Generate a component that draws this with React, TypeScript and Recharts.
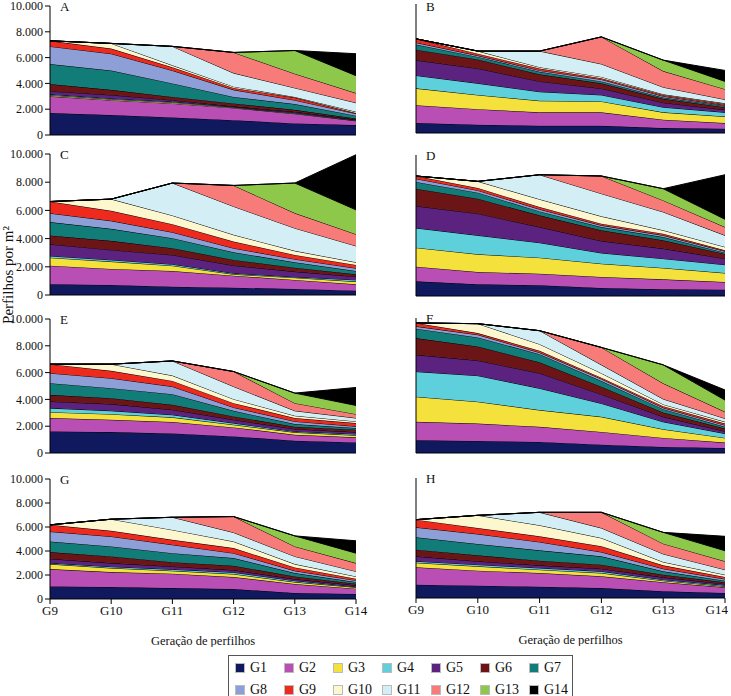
import { Area, AreaChart, XAxis, YAxis } from 'recharts'

const categories = ['G9', 'G10', 'G11', 'G12', 'G13', 'G14']
const seriesNames = ['G1', 'G2', 'G3', 'G4', 'G5', 'G6', 'G7', 'G8', 'G9', 'G10', 'G11', 'G12', 'G13', 'G14']
const seriesColors = [
  '#10195e', '#b94fb5', '#f5e13c', '#5dd0dc', '#5b2280', '#6b1517', '#127d78',
  '#8d9fd6', '#ee2a1e', '#fdf7cf', '#d3eff5', '#f77b79', '#8dc84a', '#000000',
]
const yTicks = [0, 2000, 4000, 6000, 8000, 10000]

// tillers per m2, one row per cohort (G1..G14), columns G9..G14
const panelA = [
  [1700, 1550, 1360, 1150, 900, 770],
  [1300, 1150, 1090, 950, 750, 330],
  [80, 70, 70, 40, 40, 30],
  [70, 60, 60, 30, 40, 30],
  [250, 270, 120, 50, 70, 40],
  [550, 400, 250, 230, 150, 80],
  [1550, 1500, 1050, 500, 450, 220],
  [1370, 1300, 1000, 550, 300, 150],
  [430, 400, 250, 150, 200, 50],
  [0, 400, 150, 100, 50, 100],
  [0, 0, 1470, 1050, 700, 700],
  [0, 0, 0, 1600, 1100, 750],
  [0, 0, 0, 0, 1800, 1350],
  [0, 0, 0, 0, 0, 1700],
]
const panelB = [
  [770, 640, 560, 560, 380, 330],
  [1380, 1210, 1040, 1040, 650, 440],
  [1310, 1100, 900, 850, 570, 510],
  [1000, 900, 700, 500, 400, 320],
  [1180, 1150, 800, 500, 350, 200],
  [820, 700, 550, 400, 300, 200],
  [400, 200, 200, 150, 100, 100],
  [150, 100, 100, 150, 100, 50],
  [290, 150, 150, 100, 100, 100],
  [0, 200, 100, 100, 50, 50],
  [0, 0, 1250, 1000, 550, 300],
  [0, 0, 0, 2100, 1250, 800],
  [0, 0, 0, 0, 850, 600],
  [0, 0, 0, 0, 0, 850],
]
const panelC = [
  [760, 710, 590, 520, 430, 310],
  [1320, 1140, 1110, 850, 640, 450],
  [570, 520, 380, 100, 160, 190],
  [120, 120, 100, 70, 50, 120],
  [830, 710, 660, 550, 380, 230],
  [620, 640, 480, 400, 280, 170],
  [950, 850, 710, 540, 380, 230],
  [630, 570, 420, 290, 220, 200],
  [830, 710, 570, 470, 300, 230],
  [0, 830, 620, 480, 290, 190],
  [0, 0, 2300, 2010, 1610, 1160],
  [0, 0, 0, 1490, 1070, 830],
  [0, 0, 0, 0, 2130, 1730],
  [0, 0, 0, 0, 0, 3910],
]
const panelD = [
  [1040, 830, 760, 570, 470, 450],
  [1040, 870, 820, 780, 710, 540],
  [1350, 1260, 1140, 940, 810, 640],
  [1390, 1340, 1060, 760, 660, 590],
  [1560, 1540, 1110, 850, 710, 430],
  [1230, 1060, 830, 760, 590, 330],
  [480, 430, 280, 230, 230, 90],
  [230, 160, 150, 120, 120, 100],
  [190, 170, 160, 120, 120, 70],
  [0, 470, 550, 520, 240, 240],
  [0, 0, 1740, 1610, 1300, 820],
  [0, 0, 0, 1250, 820, 590],
  [0, 0, 0, 0, 830, 550],
  [0, 0, 0, 0, 0, 3160],
]
const panelE = [
  [1610, 1560, 1460, 1240, 920, 790],
  [1000, 920, 850, 670, 440, 380],
  [440, 420, 350, 200, 180, 150],
  [300, 250, 190, 120, 70, 90],
  [500, 500, 380, 250, 180, 150],
  [490, 440, 370, 250, 170, 180],
  [870, 750, 790, 420, 200, 120],
  [750, 740, 570, 250, 200, 130],
  [670, 550, 420, 320, 250, 240],
  [0, 500, 400, 300, 170, 130],
  [0, 0, 1090, 940, 370, 250],
  [0, 0, 0, 1120, 570, 290],
  [0, 0, 0, 0, 750, 650],
  [0, 0, 0, 0, 0, 1340],
]
const panelF = [
  [940, 890, 820, 620, 450, 370],
  [1370, 1290, 1120, 940, 670, 400],
  [1860, 1620, 1240, 1120, 640, 350],
  [1860, 1930, 1610, 990, 550, 320],
  [1240, 1120, 1120, 670, 370, 170],
  [1240, 1040, 810, 570, 320, 200],
  [700, 670, 600, 420, 250, 130],
  [170, 200, 120, 150, 100, 120],
  [250, 120, 130, 100, 120, 120],
  [0, 700, 490, 330, 130, 130],
  [0, 0, 1000, 620, 400, 250],
  [0, 0, 0, 1290, 1160, 490],
  [0, 0, 0, 0, 1370, 870],
  [0, 0, 0, 0, 0, 750],
]
const panelG = [
  [1050, 1000, 910, 830, 500, 420],
  [1440, 1240, 1200, 1000, 750, 440],
  [420, 340, 240, 250, 160, 110],
  [80, 110, 120, 140, 110, 50],
  [360, 300, 240, 190, 140, 120],
  [560, 560, 360, 360, 220, 130],
  [880, 830, 750, 640, 280, 140],
  [830, 830, 700, 410, 190, 140],
  [560, 470, 410, 420, 280, 140],
  [0, 970, 830, 550, 280, 190],
  [0, 0, 1050, 750, 640, 420],
  [0, 0, 0, 1330, 830, 690],
  [0, 0, 0, 0, 880, 830],
  [0, 0, 0, 0, 0, 1030],
]
const panelH = [
  [1110, 1030, 940, 830, 560, 420],
  [1450, 1250, 1140, 980, 750, 470],
  [380, 360, 280, 270, 130, 80],
  [120, 140, 140, 140, 90, 90],
  [410, 280, 220, 220, 190, 110],
  [560, 500, 390, 340, 220, 140],
  [1030, 940, 860, 690, 280, 130],
  [830, 830, 700, 360, 220, 140],
  [640, 500, 470, 480, 280, 170],
  [0, 1060, 920, 690, 280, 190],
  [0, 0, 1080, 830, 670, 420],
  [0, 0, 0, 1310, 860, 700],
  [0, 0, 0, 0, 940, 880],
  [0, 0, 0, 0, 0, 1200],
]

const FONT = '"Liberation Serif", "Times New Roman", Times, serif'
const INK = '#111'

function toRows(values: number[][]) {
  return categories.map((name, i) => {
    const row: Record<string, string | number> = { name }
    seriesNames.forEach((s, j) => {
      row[s] = values[j][i]
    })
    return row
  })
}

const fmtY = (v: number) => (v === 0 ? '0' : `${v / 1000}.000`)

// category tick; the right-hand panel pulls its last label inside the page
function makeXTick(shiftLast: boolean) {
  return (props: any) => {
    const { x, y, payload, index } = props
    const last = shiftLast && index === categories.length - 1
    return (
      <text
        x={last ? x + 3 : x}
        y={y}
        dy="0.71em"
        textAnchor={last ? 'end' : 'middle'}
        fill={INK}
        fontSize={13}
        fontFamily={FONT}
      >
        {payload.value}
      </text>
    )
  }
}

interface PanelProps {
  letter: string
  values: number[][]
  left: number
  plotTop: number
  plotH: number
  plotW: number
  yLabels?: boolean
  xLabels?: boolean
}

function Panel({ letter, values, left, plotTop, plotH, plotW, yLabels, xLabels }: PanelProps) {
  const mTop = 8
  const xH = xLabels ? 48 : 30
  const letterTop = Math.max(2, mTop - plotTop)
  return (
    <div style={{ position: 'absolute', left, top: plotTop - mTop }}>
      <AreaChart
        width={50 + plotW + 14}
        height={mTop + plotH + xH}
        data={toRows(values)}
        margin={{ top: mTop, right: 14, bottom: 0, left: 0 }}
      >
        <XAxis
          dataKey="name"
          stroke="#000"
          height={xH}
          tickSize={5}
          interval={0}
          tick={xLabels ? makeXTick(!yLabels) : false}
          label={
            xLabels
              ? {
                  value: 'Geração de perfilhos',
                  position: 'insideBottom',
                  offset: 2,
                  fill: INK,
                  fontSize: 12.5,
                  fontFamily: FONT,
                }
              : undefined
          }
        />
        <YAxis
          width={50}
          domain={[0, 10000]}
          ticks={yTicks}
          interval={0}
          stroke="#000"
          tickSize={5}
          tickFormatter={fmtY}
          tick={yLabels ? { fill: INK, fontSize: 12, fontFamily: FONT } : false}
        />
        {seriesNames.map((s, j) => (
          <Area
            key={s}
            type="linear"
            dataKey={s}
            stackId="1"
            stroke="#000"
            strokeWidth={1}
            fill={seriesColors[j]}
            fillOpacity={1}
            dot={false}
            activeDot={false}
            isAnimationActive={false}
          />
        ))}
      </AreaChart>
      <span
        style={{
          position: 'absolute',
          left: 60,
          top: letterTop,
          fontFamily: FONT,
          fontSize: 13,
          lineHeight: '13px',
          color: INK,
        }}
      >
        {letter}
      </span>
    </div>
  )
}

function Legend() {
  return (
    <div
      style={{
        position: 'absolute',
        left: 228,
        top: 655,
        width: 345,
        height: 48,
        border: '1px solid #555',
        boxSizing: 'border-box',
        fontFamily: FONT,
        fontSize: 14,
        color: INK,
      }}
    >
      {seriesNames.map((s, j) => (
        <div
          key={s}
          style={{
            position: 'absolute',
            left: 6 + (j % 7) * 49,
            top: 4 + Math.floor(j / 7) * 22,
            display: 'flex',
            alignItems: 'center',
            gap: 5,
            lineHeight: '16px',
          }}
        >
          <span
            style={{
              width: 8,
              height: 8,
              background: seriesColors[j],
              border: '1px solid #bbb',
              display: 'inline-block',
            }}
          />
          <span>{s}</span>
        </div>
      ))}
    </div>
  )
}

export default function App() {
  return (
    <div
      style={{
        position: 'absolute',
        left: 0,
        top: 0,
        width: 731,
        height: 696,
        overflow: 'hidden',
        background: '#fff',
      }}
    >
      <Panel letter="A" values={panelA} left={0} plotTop={6} plotH={129} plotW={306} yLabels />
      <Panel letter="B" values={panelB} left={366} plotTop={4} plotH={129} plotW={309} />
      <Panel letter="C" values={panelC} left={0} plotTop={154} plotH={141} plotW={306} yLabels />
      <Panel letter="D" values={panelD} left={366} plotTop={155} plotH={141} plotW={309} />
      <Panel letter="E" values={panelE} left={0} plotTop={319} plotH={134} plotW={306} yLabels />
      <Panel letter="F" values={panelF} left={366} plotTop={318} plotH={135} plotW={309} />
      <Panel letter="G" values={panelG} left={0} plotTop={479} plotH={120} plotW={306} yLabels xLabels />
      <Panel letter="H" values={panelH} left={366} plotTop={478} plotH={120} plotW={309} xLabels />
      <div
        style={{
          position: 'absolute',
          left: 8,
          top: 275,
          transform: 'translate(-50%, -50%) rotate(-90deg)',
          fontFamily: FONT,
          fontSize: 15,
          whiteSpace: 'nowrap',
          color: INK,
        }}
      >
        Perfilhos por m²
      </div>
      <Legend />
    </div>
  )
}
